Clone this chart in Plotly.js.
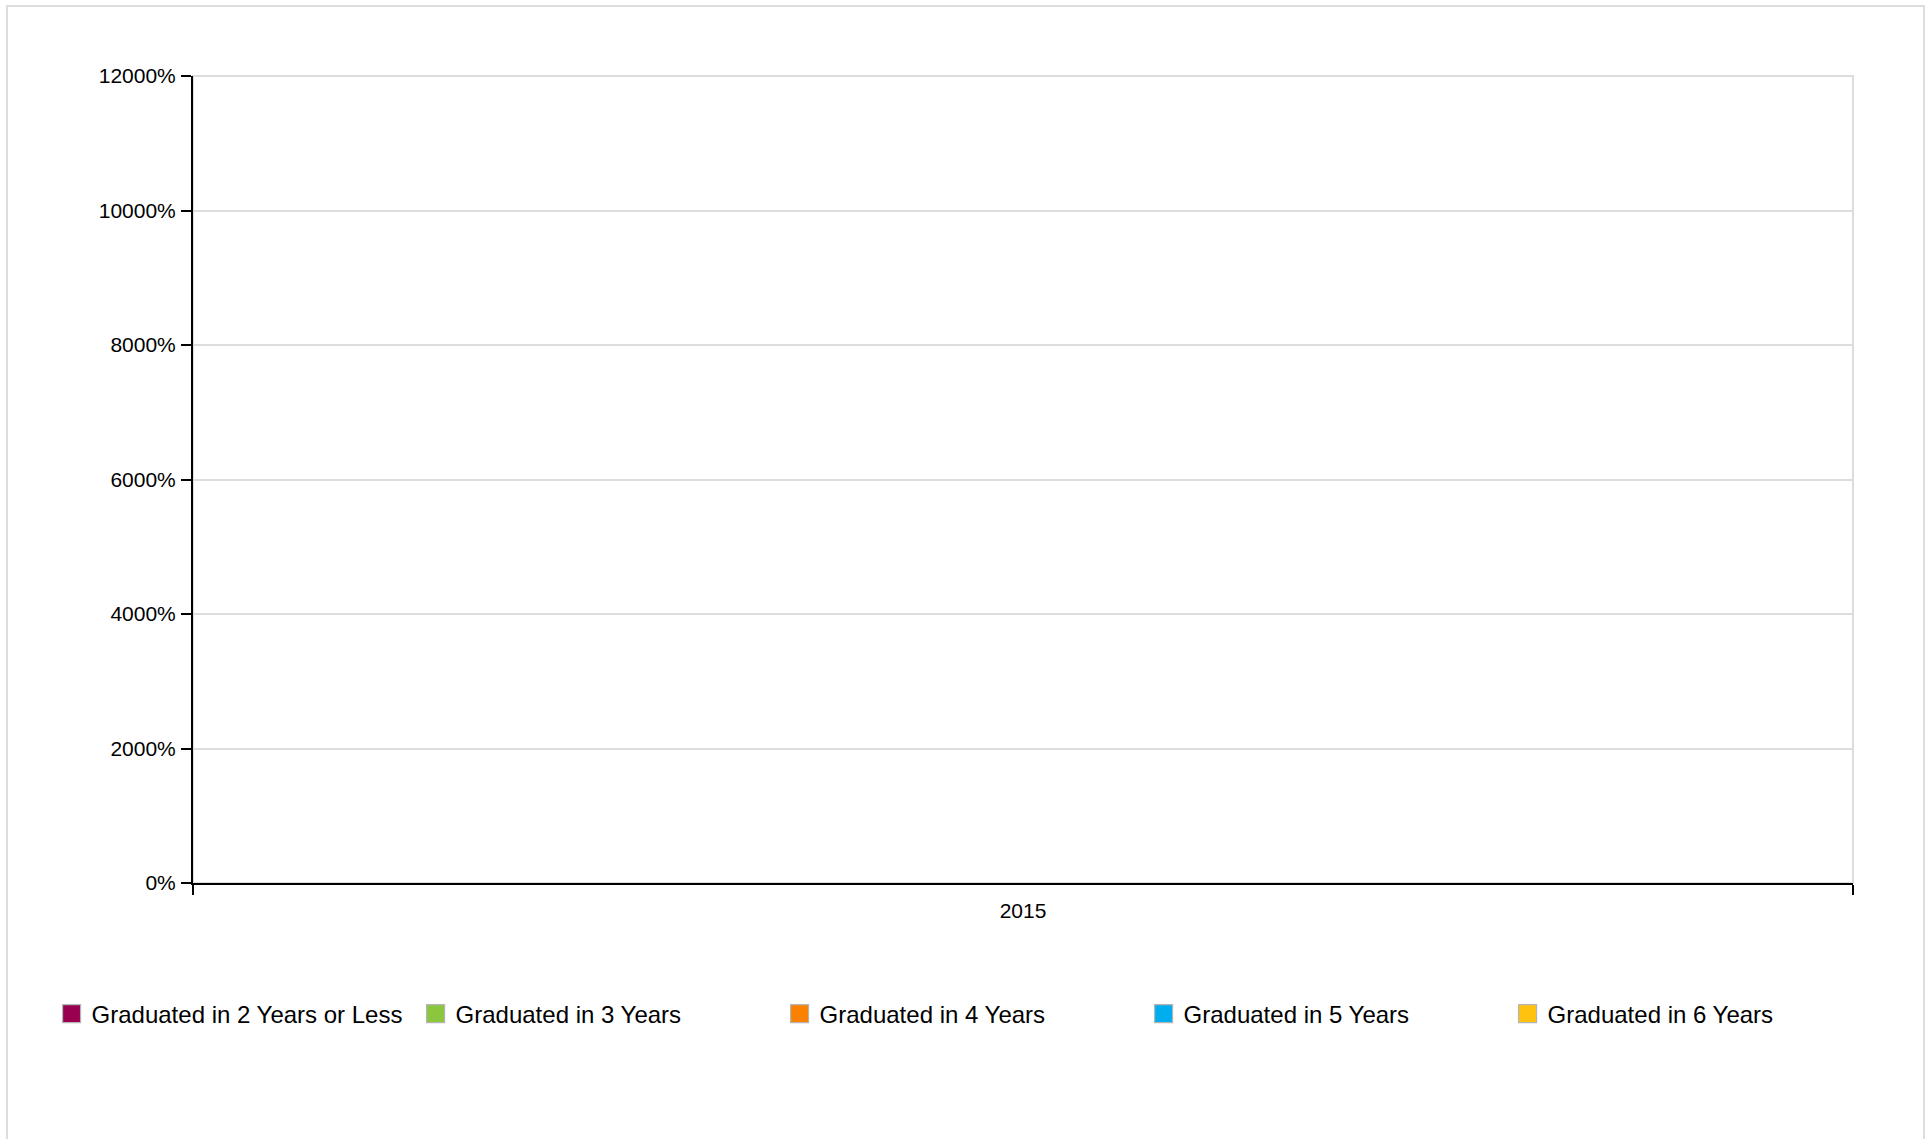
<!DOCTYPE html>
<html>
<head>
<meta charset="utf-8">
<script src="https://cdn.plot.ly/plotly-3.0.1.min.js"></script>
<style>
  html, body { margin: 0; padding: 0; background: #ffffff; overflow: hidden; }
  #frame { position: absolute; left: 6px; top: 5px; width: 1919px; height: 1200px; border: 2px solid #dddddd; box-sizing: border-box; }
  #chart { position: absolute; left: 0; top: 0; width: 1931px; height: 1139px; }
</style>
</head>
<body>
<div id="frame"></div>
<div id="chart"></div>
<script>
// Data (no visible bars: all series are zero)
var categories = ['2015'];
var seriesNames = [
  'Graduated in 2 Years or Less',
  'Graduated in 3 Years',
  'Graduated in 4 Years',
  'Graduated in 5 Years',
  'Graduated in 6 Years'
];
var grad2orLess = [0];
var grad3 = [0];
var grad4 = [0];
var grad5 = [0];
var grad6 = [0];
var seriesColors = ['#990050', '#8cc63e', '#fb8200', '#00aeef', '#ffc20e'];
var yTickValues = [0, 20, 40, 60, 80, 100, 120];

var seriesValues = [grad2orLess, grad3, grad4, grad5, grad6];
var traces = seriesValues.map(function (vals, i) {
  return {
    type: 'bar',
    name: seriesNames[i],
    x: categories,
    y: vals,
    marker: { color: seriesColors[i], line: { color: '#b5b5b5', width: 1 } },
    hoverinfo: 'skip'
  };
});

var FONT = 'Liberation Sans, Arial, Helvetica, sans-serif';

var layout = {
  width: 1931,
  height: 1139,
  paper_bgcolor: 'rgba(0,0,0,0)',
  plot_bgcolor: '#ffffff',
  margin: { l: 193, r: 78, t: 76, b: 256, pad: 0 },
  barmode: 'stack',
  showlegend: true,
  font: { family: FONT, color: '#000000', size: 21 },
  shapes: [{
    type: 'rect', xref: 'paper', yref: 'paper',
    x0: 0, x1: 1, y0: 0, y1: 1,
    line: { color: '#dddddd', width: 2 },
    fillcolor: 'rgba(0,0,0,0)',
    layer: 'below'
  }],
  xaxis: {
    type: 'category',
    range: [-0.5, 0.5],
    showline: true,
    linecolor: '#000000',
    linewidth: 2,
    ticks: 'outside',
    tickson: 'boundaries',
    ticklen: 10,
    tickwidth: 2,
    tickcolor: '#000000',
    showgrid: true,
    gridcolor: '#dddddd',
    gridwidth: 2,
    ticklabelstandoff: 8,
    tickfont: { family: FONT, size: 21, color: '#000000' },
    zeroline: false,
    fixedrange: true
  },
  yaxis: {
    range: [0, 120],
    tickvals: yTickValues,
    tickformat: '.0%',
    showline: true,
    linecolor: '#000000',
    linewidth: 2,
    ticks: 'outside',
    ticklen: 10,
    tickwidth: 2,
    tickcolor: '#000000',
    showgrid: true,
    gridcolor: '#dddddd',
    gridwidth: 2,
    zeroline: false,
    ticklabelstandoff: 1,
    tickfont: { family: FONT, size: 21, color: '#000000' },
    fixedrange: true
  },
  legend: {
    orientation: 'h',
    traceorder: 'normal',
    x: -0.0852,
    xanchor: 'left',
    y: -0.1623,
    yanchor: 'middle',
    entrywidth: 319,
    entrywidthmode: 'pixels',
    font: { family: FONT, size: 24, color: '#000000' },
    bgcolor: 'rgba(0,0,0,0)',
    borderwidth: 0
  }
};

Plotly.newPlot('chart', traces, layout, { displayModeBar: false, staticPlot: true }).then(function (gd) {
  // enlarge the legend swatches to match the reference's 18px squares
  var pts = gd.querySelectorAll('.legend .legendpoints path');
  pts.forEach(function (p) {
    var t = p.getAttribute('transform') || '';
    p.setAttribute('transform', t + ' scale(1.5)');
    p.style.strokeWidth = '0.8px';
  });
});
</script>
</body>
</html>
